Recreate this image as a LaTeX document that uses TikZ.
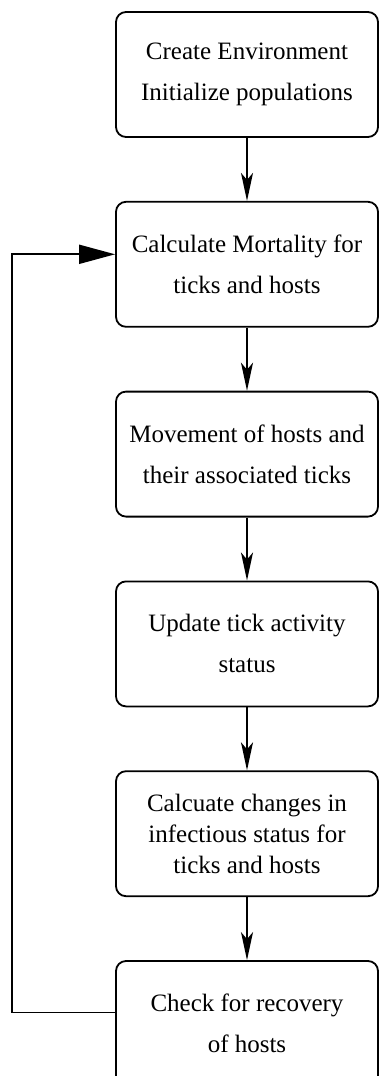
\documentclass[tikz,border=0pt]{standalone}
\usepackage{fontspec}
\setmainfont{Liberation Serif}
\usetikzlibrary{positioning,arrows.meta}

\tikzset{
  stepbox/.style={draw, rectangle, rounded corners=10pt, line width=1.8pt,
    minimum width=262pt, minimum height=125pt, align=center,
    font=\fontsize{25}{41}\selectfont},
  flow/.style={line width=1.8pt, -{Stealth[length=28pt,width=12pt,inset=7pt]}},
  back/.style={line width=1.8pt, -{Triangle[length=36pt,width=19pt]}}
}

\begin{document}
\begin{tikzpicture}[x=1pt, y=1pt, node distance=63pt]
				\useasboundingbox (0,0) rectangle (380,-1076);
				\node (box1) [stepbox] at (247,-74.5) {Create Environment\\Initialize populations};
				\node (box2) [stepbox, below=of box1] {Calculate Mortality for\\ticks and hosts};
				\node (box3) [stepbox, below=of box2] {Movement of hosts and\\their associated ticks};
				\node (box4) [stepbox, below=of box3] {Update tick activity\\status};
				\node (box5) [stepbox, below=of box4, font=\fontsize{25}{31}\selectfont] {Calcuate changes in\\infectious status for\\ticks and hosts};
				\node (box6) [stepbox, below=of box5] {Check for recovery\\of hosts};
				\coordinate (loop) at (12,0);
				\coordinate (entry) at ([yshift=10pt]box2.west);
				\coordinate (exit) at ([yshift=11pt]box6.west);
				
				% Arrows
				\draw[flow] (box1) -- (box2);
				\draw[flow] (box2) -- (box3);
				\draw[flow] (box3) -- (box4);
				\draw[flow] (box4) -- (box5);
				\draw[flow] (box5) -- (box6);
				\draw[back] (exit) -- (exit -| loop) |- (entry);
\end{tikzpicture}
\end{document}
